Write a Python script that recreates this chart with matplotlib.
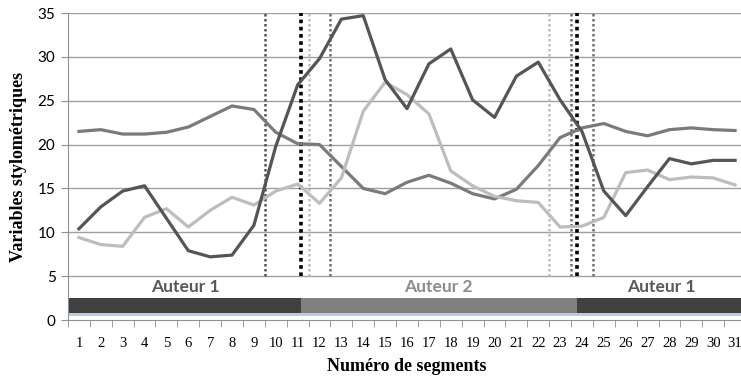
import numpy as np
import matplotlib.pyplot as plt
from matplotlib.patches import Rectangle

# segment numbers
segments = list(range(1, 32))

# three stylometric variables
serie_fonce = [10.4, 12.9, 14.7, 15.3, 11.6, 7.9, 7.2, 7.4, 10.8, 19.8,
               26.8, 29.8, 34.3, 34.7, 27.4, 24.1, 29.2, 30.9, 25.1, 23.1,
               27.8, 29.4, 25.1, 21.5, 14.7, 11.9, 15.2, 18.4, 17.8, 18.2, 18.2]
serie_moyen = [21.5, 21.7, 21.2, 21.2, 21.4, 22.0, 23.2, 24.4, 24.0, 21.4,
               20.1, 20.0, 17.5, 15.0, 14.4, 15.7, 16.5, 15.6, 14.4, 13.8,
               14.9, 17.6, 20.8, 21.9, 22.4, 21.5, 21.0, 21.7, 21.9, 21.7, 21.6]
serie_clair = [9.4, 8.6, 8.4, 11.7, 12.7, 10.6, 12.5, 14.0, 13.1, 14.7,
               15.5, 13.3, 16.2, 23.8, 27.1, 25.7, 23.5, 17.0, 15.3, 14.1,
               13.6, 13.4, 10.6, 10.7, 11.7, 16.8, 17.1, 16.0, 16.3, 16.2, 15.4]

# rupture markers (position on the segment axis) and their colours
ruptures = [9.5, 11.15, 11.5, 12.5, 22.5, 23.5, 23.75, 24.5]
rupture_colors = ['#555555', 'black', '#c0c0c0', '#707070',
                  '#c0c0c0', '#707070', 'black', '#707070']

# author bands: start, end, label
auteurs = ['Auteur 1', 'Auteur 2', 'Auteur 1']
auteur_debut = [0.55, 11.15, 23.75]
auteur_fin = [11.15, 23.75, 31.5]
auteur_colors = ['#404040', '#808080', '#404040']
auteur_text_colors = ['#595959', '#8c8c8c', '#595959']

fig = plt.figure(figsize=(7.41, 3.80), dpi=100)
ax = fig.add_axes([68 / 741, 1 - 320 / 380, 678 / 741, 307 / 380])

ax.set_xlim(0.5, 31.5)
ax.set_ylim(0, 35)

# horizontal grid
for y in range(5, 40, 5):
    ax.axhline(y, color='#a0a0a0', lw=1.0, zorder=1)

# vertical dotted rupture lines
for xr, c in zip(ruptures, rupture_colors):
    lw = 2.6 if c == 'black' else 1.8
    ax.vlines(xr, 5, 35, colors=c, linestyles=(0, (1, 1)), lw=lw, zorder=2)

ax.plot(segments, serie_moyen, color='#7a7a7a', lw=2.3, zorder=3)
ax.plot(segments, serie_clair, color='#bdbdbd', lw=2.3, zorder=3)
ax.plot(segments, serie_fonce, color='#555555', lw=2.3, zorder=4)

# author bar with light blue shadow
for d, f, lab, c, tc in zip(auteur_debut, auteur_fin, auteurs, auteur_colors, auteur_text_colors):
    ax.add_patch(Rectangle((d, 0.5), f - d, 0.35, color='#b8cce4', lw=0, zorder=2))
    ax.add_patch(Rectangle((d, 0.85), f - d, 1.65, color=c, lw=0, zorder=3))
    ax.text((d + f) / 2, 3.8, lab, ha='center', va='center', fontsize=12.5,
            fontweight='bold', color=tc, family='Lato')

for s in ['top', 'right']:
    ax.spines[s].set_visible(False)
ax.spines['left'].set_color('#909090')
ax.spines['bottom'].set_color('#909090')

ax.set_yticks(range(0, 40, 5))
ax.tick_params(axis='y', colors='#909090', labelcolor='black', labelsize=11,
               length=5, pad=4)
for t in ax.get_yticklabels():
    t.set_family('Lato')

ax.set_xticks(segments)
ax.set_xticklabels([str(s) for s in segments], family='Liberation Serif', fontsize=10.5)
ax.set_xticks(np.arange(0.5, 32, 1), minor=True)
ax.tick_params(axis='x', which='major', length=0, pad=12)
ax.tick_params(axis='x', which='minor', length=5, color='#909090')

ax.set_xlabel('Numéro de segments', family='Liberation Serif', fontweight='bold',
              fontsize=13, labelpad=6)
ax.set_ylabel('Variables stylométriques', family='Liberation Serif', fontweight='bold',
              fontsize=13, labelpad=8)

fig.savefig('out.png', dpi=100)
